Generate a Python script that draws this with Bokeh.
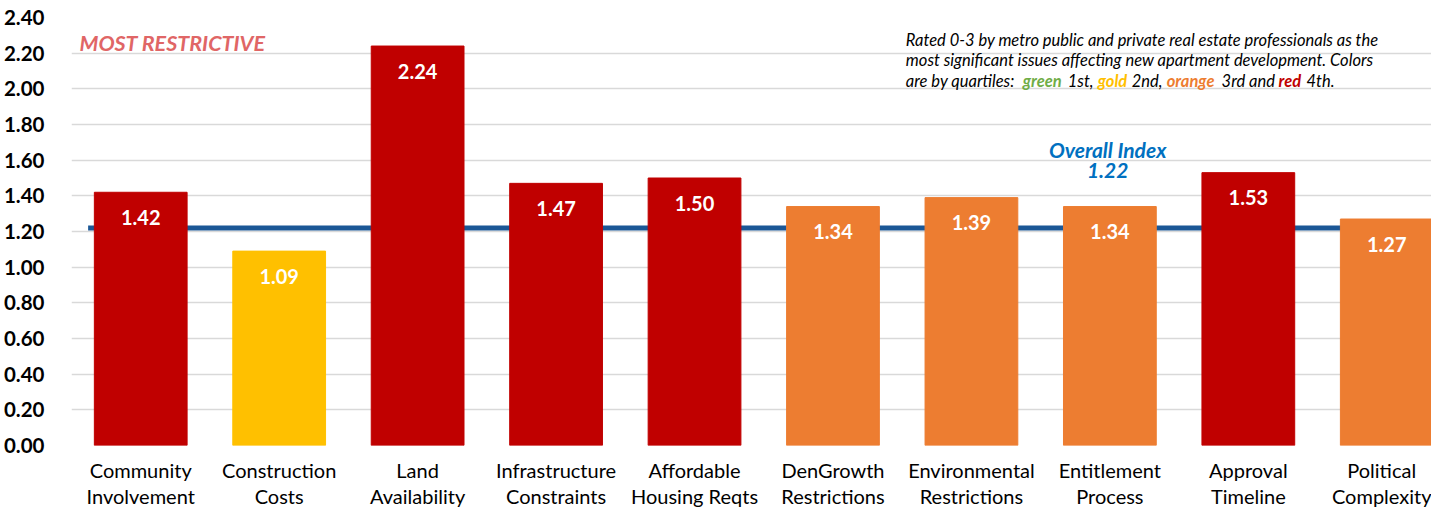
from bokeh.plotting import figure
from bokeh.models import ColumnDataSource, LabelSet, Label, FixedTicker, Range1d
from bokeh.core.properties import value
from bokeh.embed import file_html
from bokeh.resources import INLINE

categories = ["Community\nInvolvement", "Construction\nCosts", "Land\nAvailability",
              "Infrastructure\nConstraints", "Affordable\nHousing Reqts", "DenGrowth\nRestrictions",
              "Environmental\nRestrictions", "Entitlement\nProcess", "Approval\nTimeline",
              "Political\nComplexity"]
values = [1.42, 1.09, 2.24, 1.47, 1.50, 1.34, 1.39, 1.34, 1.53, 1.27]
quartile = ["red", "gold", "red", "red", "red", "orange", "orange", "orange", "red", "orange"]
overall = 1.22
y_ticks = [0.0, 0.2, 0.4, 0.6, 0.8, 1.0, 1.2, 1.4, 1.6, 1.8, 2.0, 2.2, 2.4]

palette = {"green": "#70AD47", "gold": "#FFC000", "orange": "#ED7D31", "red": "#C00000"}
FONT = "Lato"

xs = list(range(len(categories)))
src = ColumnDataSource(dict(x=xs, top=values, color=[palette[q] for q in quartile],
                            label=[f"{v:.2f}" for v in values]))

p = figure(width=1431, height=513, output_backend="svg", toolbar_location=None,
           x_range=Range1d(-0.5, 9.323), y_range=Range1d(0, 2.4),
           min_border_left=70, min_border_right=0, min_border_top=17, min_border_bottom=68)
p.outline_line_color = None
p.xgrid.grid_line_color = None
p.ygrid.grid_line_color = "#D9D9D9"
p.ygrid.grid_line_width = 1.5

# overall index line behind bars
p.segment(x0=[-0.38], y0=[overall], x1=[len(categories) - 0.62], y1=[overall],
          line_color="#1B5796", line_width=5)

p.vbar(x="x", top="top", width=0.67, color="color", source=src)

labels = LabelSet(x="x", y="top", text="label", source=src, text_color="white",
                  text_font=value(FONT), text_font_style="bold", text_font_size="20px",
                  text_align="center", text_baseline="middle", y_offset=-25)
p.add_layout(labels)

# axes
p.xaxis.ticker = FixedTicker(ticks=xs)
p.xaxis.major_label_overrides = {i: c for i, c in enumerate(categories)}
p.xaxis.axis_line_color = None
p.xaxis.major_tick_line_color = None
p.xaxis.minor_tick_line_color = None
p.xaxis.major_label_text_font = FONT
p.xaxis.major_label_text_font_size = "20px"
p.xaxis.major_label_text_color = "black"
p.xaxis.major_label_text_line_height = 1.1
p.xaxis.major_label_standoff = 6

p.yaxis.ticker = FixedTicker(ticks=y_ticks)
p.yaxis.major_label_overrides = {t: f"{t:.2f}" for t in y_ticks}
p.yaxis.axis_line_color = None
p.yaxis.major_tick_line_color = None
p.yaxis.minor_tick_line_color = None
p.yaxis.major_label_text_font = FONT
p.yaxis.major_label_text_font_style = "bold"
p.yaxis.major_label_text_font_size = "20.5px"
p.yaxis.major_label_text_color = "black"
p.yaxis.major_label_standoff = 21


def dx(px):
    return -0.5 + (px - 70) / 138.56


def dy(py):
    return (460 - py) / 183.75


p.add_layout(Label(x=dx(78), y=dy(45), text="MOST RESTRICTIVE", text_color="#E06666",
                   text_font=FONT, text_font_style="bold italic", text_font_size="21.5px",
                   text_baseline="middle", text_align="left"))

p.add_layout(Label(x=dx(1107), y=dy(155), text="Overall Index", text_color="#0070C0",
                   text_font=FONT, text_font_style="bold italic", text_font_size="21px",
                   text_baseline="middle", text_align="center"))
p.add_layout(Label(x=dx(1107), y=dy(177), text=f"{overall:.2f}", text_color="#0070C0",
                   text_font=FONT, text_font_style="bold italic", text_font_size="21px",
                   text_baseline="middle", text_align="center"))

note_lines = ["Rated 0-3 by metro public and private real estate professionals as the",
              "most significant issues affecting new apartment development.  Colors"]
for i, t in enumerate(note_lines):
    p.add_layout(Label(x=dx(905), y=dy(42 + 21 * i), text=t, text_color="black",
                       text_font=FONT, text_font_style="italic", text_font_size="16.5px",
                       text_baseline="middle", text_align="left"))

pieces = [("are by quartiles:", "black", "italic", 905),
          ("green", palette["green"], "bold italic", 1022),
          ("1st,", "black", "italic", 1067),
          ("gold", palette["gold"], "bold italic", 1097),
          ("2nd,", "black", "italic", 1131),
          ("orange", palette["orange"], "bold italic", 1166),
          ("3rd and", "black", "italic", 1221),
          ("red", palette["red"], "bold italic", 1278),
          ("4th.", "black", "italic", 1306)]
for t, c, s, px in pieces:
    p.add_layout(Label(x=dx(px), y=dy(84), text=t, text_color=c,
                       text_font=FONT, text_font_style=s, text_font_size="16.5px",
                       text_baseline="middle", text_align="left"))

open("out.html", "w").write(file_html(p, INLINE))
